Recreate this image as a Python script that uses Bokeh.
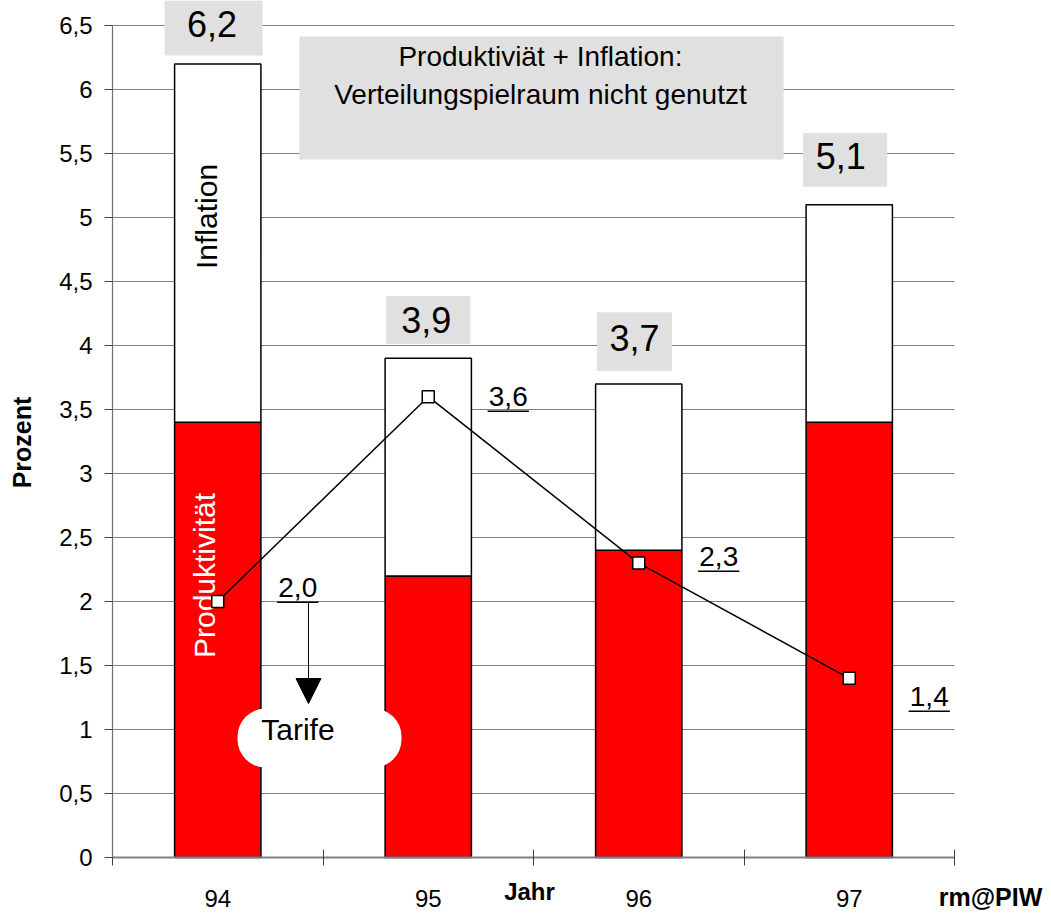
import math

from bokeh.core.properties import value
from bokeh.embed import file_html
from bokeh.models import Arrow, BoxAnnotation, FixedTicker, Label, NormalHead, Range1d
from bokeh.plotting import figure
from bokeh.resources import INLINE

# ---- data -----------------------------------------------------------------
years = ["94", "95", "96", "97"]
produktivitaet = [3.4, 2.2, 2.4, 3.4]   # red part of each bar
inflation = [2.8, 1.7, 1.3, 1.7]        # white part stacked on top
tarife = [2.0, 3.6, 2.3, 1.4]           # wage agreements (line)
y_ticks = [0, 0.5, 1, 1.5, 2, 2.5, 3, 3.5, 4, 4.5, 5, 5.5, 6, 6.5]

# ---- layout / style helpers -------------------------------------------------
FONT = "Liberation Sans"
RED = "#ff0000"
GREY_BOX = "#e0e0e0"
GRID = "#808080"


def de(v):
    """German decimal notation: 6.5 -> '6,5', 6.0 -> '6'."""
    return f"{v:g}".replace(".", ",")


def de1(v):
    return f"{v:.1f}".replace(".", ",")


xs = list(range(1, len(years) + 1))
totals = [round(a + b, 1) for a, b in zip(produktivitaet, inflation)]

# placement of the grey total boxes relative to each bar top
total_box_dx = [-0.02, 0.0, -0.02, -0.02]
total_box_dy = [0.28, 0.30, 0.33, 0.35]
total_box_w = [0.466, 0.40, 0.356, 0.40]
total_box_h = [0.43, 0.375, 0.46, 0.42]
total_txt_dx = [-0.027, -0.01, -0.02, -0.04]
total_txt_dy = [0.308, 0.296, 0.355, 0.377]

# placement of the underlined Tarife values relative to their points
tarif_txt_dx = 0.38
tarif_txt_dy = [0.110, 0.002, 0.052, -0.142]
underline_gap = 0.116

# The plot frame fills the whole canvas; the axes are pinned inside it.
X0, X1 = -0.0321, 4.9608
Y0, Y1 = -0.4609, 6.6953

p = figure(
    width=1051,
    height=916,
    x_range=Range1d(X0, X1),
    y_range=Range1d(Y0, Y1),
    output_backend="svg",
    toolbar_location=None,
    min_border=0,
    min_border_left=0,
    min_border_right=0,
    min_border_top=0,
    min_border_bottom=0,
)
p.outline_line_color = None
p.background_fill_color = "white"
p.border_fill_color = "white"
p.xgrid.visible = False
p.ygrid.visible = False

# ---- axes -------------------------------------------------------------------
yax = p.yaxis[0]
yax.fixed_location = 0.5
yax.ticker = FixedTicker(ticks=y_ticks)
yax.major_label_overrides = {t: de(t) for t in y_ticks}
yax.bounds = (0, 6.5)
yax.major_tick_in = 0
yax.major_tick_out = 8
yax.minor_tick_in = 0
yax.minor_tick_out = 0
yax.axis_line_color = "#707070"
yax.axis_line_width = 1.2
yax.major_tick_line_color = "#404040"
yax.major_label_text_font = FONT
yax.major_label_text_font_size = "24px"
yax.major_label_text_color = "black"
yax.major_label_standoff = 12

xax = p.xaxis[0]
xax.fixed_location = 0
xax.ticker = FixedTicker(ticks=xs, minor_ticks=[0.5, 1.5, 2.5, 3.5, 4.5])
xax.major_label_overrides = {x: y for x, y in zip(xs, years)}
xax.bounds = (0.5, 4.5)
xax.major_tick_in = 0
xax.major_tick_out = 0
xax.minor_tick_in = 8
xax.minor_tick_out = 8
xax.minor_tick_line_color = "#404040"
xax.axis_line_color = "#808080"
xax.axis_line_width = 2
xax.major_label_text_font = FONT
xax.major_label_text_font_size = "24px"
xax.major_label_text_color = "black"
xax.major_label_standoff = 24

# horizontal grid lines between the category bounds
p.segment(x0=[0.5] * len(y_ticks), x1=[4.5] * len(y_ticks), y0=y_ticks, y1=y_ticks,
          line_color=GRID, line_width=1)

# ---- bars -------------------------------------------------------------------
p.vbar(x=xs, width=0.41, bottom=0, top=produktivitaet,
       fill_color=RED, line_color="black", line_width=1.5)
p.vbar(x=xs, width=0.41, bottom=produktivitaet, top=totals,
       fill_color="white", line_color="black", line_width=1.5)

# rotated series names inside the first bar
p.text(x=[0.948], y=[produktivitaet[0] + inflation[0] / 2 + 0.208], text=["Inflation"],
       angle=math.pi / 2, text_align="center", text_baseline="alphabetic",
       text_font=value(FONT), text_font_size="30px", text_color="black")
p.text(x=[0.935], y=[produktivitaet[0] / 2 + 0.503], text=["Produktivität"],
       angle=math.pi / 2, text_align="center", text_baseline="alphabetic",
       text_font=value(FONT), text_font_size="30px", text_color="white")

# ---- grey boxes with the bar totals -----------------------------------------
p.rect(x=[x + d for x, d in zip(xs, total_box_dx)],
       y=[t + d for t, d in zip(totals, total_box_dy)],
       width=total_box_w, height=total_box_h,
       fill_color=GREY_BOX, line_color=None)
p.text(x=[x + d for x, d in zip(xs, total_txt_dx)],
       y=[t + d for t, d in zip(totals, total_txt_dy)],
       text=[de1(t) for t in totals],
       text_align="center", text_baseline="alphabetic",
       text_font=value(FONT), text_font_size="36px", text_color="black")

# ---- headline box -------------------------------------------------------------
p.rect(x=[2.538], y=[5.933], width=[2.30], height=[0.961],
       fill_color=GREY_BOX, line_color=None)
p.text(x=[2.533, 2.533], y=[6.260, 5.961],
       text=["Produktiviät + Inflation:", "Verteilungspielraum nicht genutzt"],
       text_align="center", text_baseline="alphabetic",
       text_font=value(FONT), text_font_size="28px", text_color="black")

# ---- Tarife line --------------------------------------------------------------
p.line(x=xs, y=tarife, line_color="black", line_width=1.5)
p.scatter(x=xs, y=tarife, marker="square", size=12,
          fill_color="white", line_color="black", line_width=1.5)

tx = [x + tarif_txt_dx for x in xs]
ty = [v + d for v, d in zip(tarife, tarif_txt_dy)]
p.text(x=tx, y=ty, text=[de1(v) for v in tarife],
       text_align="center", text_baseline="alphabetic",
       text_font=value(FONT), text_font_size="28px", text_color="black")
# underline of the values
uy = [y - underline_gap for y in ty]
p.segment(x0=[x - 0.098 for x in tx], y0=uy, x1=[x + 0.098 for x in tx], y1=uy,
          line_color="black", line_width=1.5)

# arrow from the 1994 value down to the "Tarife" bubble
p.add_layout(Arrow(x_start=1.431, y_start=uy[0], x_end=1.431, y_end=1.203,
                   line_color="black", line_width=1,
                   end=NormalHead(size=25, fill_color="black", line_color="black")))
p.add_layout(BoxAnnotation(left=1.094, right=1.873, top=1.164, bottom=0.703,
                           fill_color="white", fill_alpha=1.0, line_color=None,
                           border_radius=28))
p.add_layout(Label(x=1.381, y=1.0, text="Tarife", text_align="center",
                   text_baseline="alphabetic", text_font=FONT,
                   text_font_size="30px", text_color="black"))

# ---- axis titles and credit --------------------------------------------------
p.add_layout(Label(x=0.068, y=3.242, text="Prozent", angle=math.pi / 2,
                   text_align="center", text_baseline="alphabetic",
                   text_font=FONT, text_font_size="25px", text_font_style="bold",
                   text_color="black"))
p.add_layout(Label(x=2.481, y=-0.262, text="Jahr", text_align="center",
                   text_baseline="alphabetic", text_font=FONT,
                   text_font_size="24px", text_font_style="bold", text_color="black"))
p.add_layout(Label(x=4.671, y=-0.312, text="rm@PIW", text_align="center",
                   text_baseline="alphabetic", text_font=FONT,
                   text_font_size="25px", text_font_style="bold", text_color="black"))

open("out.html", "w").write(file_html(p, INLINE))
